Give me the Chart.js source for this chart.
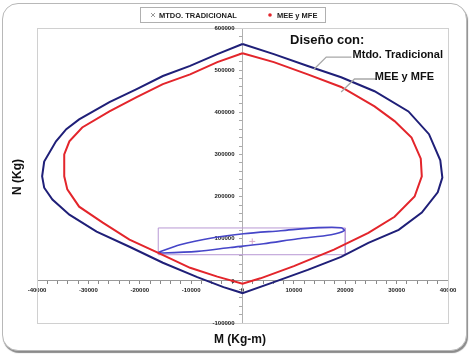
<!DOCTYPE html>
<html><head><meta charset="utf-8">
<script src="https://cdn.jsdelivr.net/npm/chart.js@4/dist/chart.umd.min.js"></script>
<style>
html,body{margin:0;padding:0;background:#fff;width:471px;height:356px;overflow:hidden;}
#frame{position:absolute;left:2px;top:3px;width:463px;height:346px;border:1px solid #b8b8b8;border-radius:16px;box-shadow:1px 2px 1px #8a8a8a;background:#fff;}
#c{position:absolute;left:0;top:0;}
</style></head><body>
<div id="frame"></div>
<canvas id="c" width="471" height="356"></canvas>
<script>
// Series names
const seriesNames = ['MTDO. TRADICIONAL', 'MEE y MFE'];

// Traditional method interaction curve (M in Kg-m, N in Kg), closed loop
const tradM = [0, -4900, -10200, -15500, -20600, -25900, -31800, -34300, -36300, -38600, -39000, -38600, -37000, -33700, -28400, -22000, -15500, -8800, -3700, 0,
  6100, 12700, 19200, 24500, 30400, 34900, 38000, 38900, 38500, 36300, 32300, 25700, 19200, 12700, 6100, 0];
const tradN = [562000, 538000, 510000, 486000, 455000, 424000, 383000, 360000, 331000, 283000, 248000, 221000, 193000, 157000, 117000, 81000, 43000, 9000, -15000, -29000,
  -3000, 26000, 57000, 90000, 121000, 162000, 210000, 245000, 286000, 348000, 402000, 450000, 483000, 510000, 538000, 562000];

// MEE y MFE interaction curve
const meeM = [0, -4900, -10200, -15500, -20600, -25900, -31200, -33700, -34700, -34700, -34700, -34100, -31800, -27200, -22000, -16500, -10200, -4900, 0,
  3500, 10000, 17800, 24500, 29600, 33500, 34900, 34700, 32900, 29600, 25700, 19200, 12700, 6100, 0];
const meeN = [540000, 519000, 490000, 467000, 436000, 402000, 364000, 331000, 300000, 271000, 248000, 217000, 176000, 138000, 98000, 67000, 31000, 10000, -7000,
  6000, 35000, 74000, 114000, 152000, 200000, 248000, 290000, 340000, 379000, 414000, 460000, 490000, 519000, 540000];

// Highlight ellipse (load region)
const ellM = [-16500, -12150, -5700, 200, 7450, 14700, 19200, 19800, 17250, 10800, 4100, -2350, -8800, -15500, -16500];
const ellN = [66700, 85700, 102400, 111900, 119000, 126200, 126200, 119000, 109500, 100000, 88000, 79000, 70000, 66000, 66700];

// Highlight rectangle
const rectM = [-16400, 20000, 20000, -16400, -16400];
const rectN = [125500, 125500, 62000, 62000, 125500];

// Centre marker
const markM = [1900];
const markN = [93600];

// Axis ranges / tick labels
const xMin = -40000, xMax = 40000, xMajor = 10000, xMinor = 2000;
const yMin = -100000, yMax = 600000, yMajor = 100000, yMinor = 20000;

// Annotation texts
const noteTitle = 'Diseño con:';
const noteLabels = ['Mtdo. Tradicional', 'MEE y MFE'];
// leader lines in data coords
const leader1M = [21200, 16300, 13900], leader1N = [531000, 531000, 502000];
const leader2M = [26100, 21800, 19200], leader2N = [479000, 479000, 448000];

const xTitle = 'M (Kg-m)';
const yTitle = 'N (Kg)';

const pts = (a, b) => a.map((v, i) => ({x: v, y: b[i]}));
const FONT = '"Liberation Sans", Arial, sans-serif';

const decor = {
  id: 'decor',
  beforeDatasetsDraw(chart) {
    const {ctx, chartArea: a} = chart;
    ctx.save();
    ctx.strokeStyle = '#d0d0d0';
    ctx.lineWidth = 1;
    ctx.strokeRect(a.left + 0.5, a.top + 0.5, a.right - a.left, a.bottom - a.top);
    // y tick labels, left of the centred axis
    const sx = chart.scales.x, sy = chart.scales.y;
    const ax = sx.getPixelForValue(0);
    ctx.font = 'bold 6px ' + FONT;
    ctx.fillStyle = '#222';
    ctx.textAlign = 'right';
    ctx.textBaseline = 'middle';
    sy.ticks.forEach(t => {
      if (t.value % yMajor === 0) ctx.fillText(String(t.value), ax - 8, sy.getPixelForValue(t.value));
    });
    ctx.restore();
  },
  afterDraw(chart) {
    const {ctx} = chart;
    const sx = chart.scales.x, sy = chart.scales.y;
    ctx.save();
    // Legend box
    ctx.strokeStyle = '#b0b0b0';
    ctx.lineWidth = 1;
    ctx.strokeRect(140.5, 7.5, 185, 15);
    ctx.font = 'bold 7.5px ' + FONT;
    ctx.fillStyle = '#222';
    ctx.textBaseline = 'middle';
    ctx.textAlign = 'left';
    // item 1 marker (x)
    ctx.strokeStyle = '#999';
    ctx.beginPath();
    ctx.moveTo(151, 13); ctx.lineTo(155, 17);
    ctx.moveTo(155, 13); ctx.lineTo(151, 17);
    ctx.stroke();
    ctx.fillText(chart.data.datasets[0].label, 159, 15.5);
    // item 2 marker (dot)
    ctx.fillStyle = chart.data.datasets[1].borderColor;
    ctx.beginPath(); ctx.arc(270, 15, 1.8, 0, Math.PI * 2); ctx.fill();
    ctx.fillStyle = '#222';
    ctx.fillText(chart.data.datasets[1].label, 277, 15.5);

    // leaders
    ctx.strokeStyle = '#a8a8a8';
    ctx.lineWidth = 1.3;
    [[leader1M, leader1N], [leader2M, leader2N]].forEach(([m, n]) => {
      ctx.beginPath();
      m.forEach((v, i) => {
        const px = sx.getPixelForValue(v), py = sy.getPixelForValue(n[i]);
        if (i === 0) ctx.moveTo(px, py); else ctx.lineTo(px, py);
      });
      ctx.stroke();
    });
    // notes
    ctx.fillStyle = '#111';
    ctx.textBaseline = 'alphabetic';
    ctx.font = 'bold 13px ' + FONT;
    ctx.fillText(noteTitle, 290, 44);
    ctx.font = 'bold 11px ' + FONT;
    ctx.textAlign = 'right';
    ctx.fillText(noteLabels[0], 443, 58);
    ctx.fillText(noteLabels[1], 434, 80);

    // axis titles
    ctx.textAlign = 'center';
    ctx.textBaseline = 'middle';
    ctx.font = 'bold 12px ' + FONT;
    ctx.fillText(xTitle, 240, 340);
    ctx.translate(18, 177);
    ctx.rotate(-Math.PI / 2);
    ctx.fillText(yTitle, 0, 0);
    ctx.restore();
  }
};

const tickFont = {size: 6, weight: 'bold', family: FONT};

new Chart(document.getElementById('c'), {
  type: 'scatter',
  data: {
    datasets: [
      {label: seriesNames[0], data: pts(tradM, tradN), showLine: true, borderColor: '#1f1f78', backgroundColor: '#1f1f78', borderWidth: 2, pointRadius: 0, tension: 0},
      {label: seriesNames[1], data: pts(meeM, meeN), showLine: true, borderColor: '#e3252b', backgroundColor: '#e3252b', borderWidth: 2, pointRadius: 0, tension: 0},
      {label: 'ellipse', data: pts(ellM, ellN), showLine: true, borderColor: '#4646c8', borderWidth: 1.6, pointRadius: 0, tension: 0.3},
      {label: 'rect', data: pts(rectM, rectN), showLine: true, borderColor: '#b898d4', borderWidth: 1, pointRadius: 0, tension: 0},
      {label: 'mark', data: pts(markM, markN), showLine: false, borderColor: '#d8a8c8', pointStyle: 'cross', pointRadius: 3, borderWidth: 1}
    ]
  },
  options: {
    responsive: false,
    animation: false,
    devicePixelRatio: 1,
    layout: {padding: {left: 37, right: 23, top: 28, bottom: 33}},
    plugins: {legend: {display: false}, tooltip: {enabled: false}},
    scales: {
      x: {
        type: 'linear', min: xMin, max: xMax, position: {y: 0},
        grid: {display: true, drawOnChartArea: false, drawTicks: true, tickLength: 3, color: '#888'},
        border: {display: true, color: '#9a9a9a'},
        ticks: {stepSize: xMinor, autoSkip: false, maxRotation: 0, padding: 3, color: '#222', font: tickFont,
          callback: v => (v % xMajor === 0 ? String(v) : '')}
      },
      y: {
        type: 'linear', min: yMin, max: yMax, position: {x: 0},
        grid: {display: true, drawOnChartArea: false, drawTicks: true, tickLength: 3, color: '#aaa'},
        border: {display: true, color: '#b0b0b0'},
        ticks: {stepSize: yMinor, autoSkip: false, padding: 3, color: '#222', font: tickFont,
          callback: () => ''}
      }
    }
  },
  plugins: [decor]
});
</script>
</body></html>
